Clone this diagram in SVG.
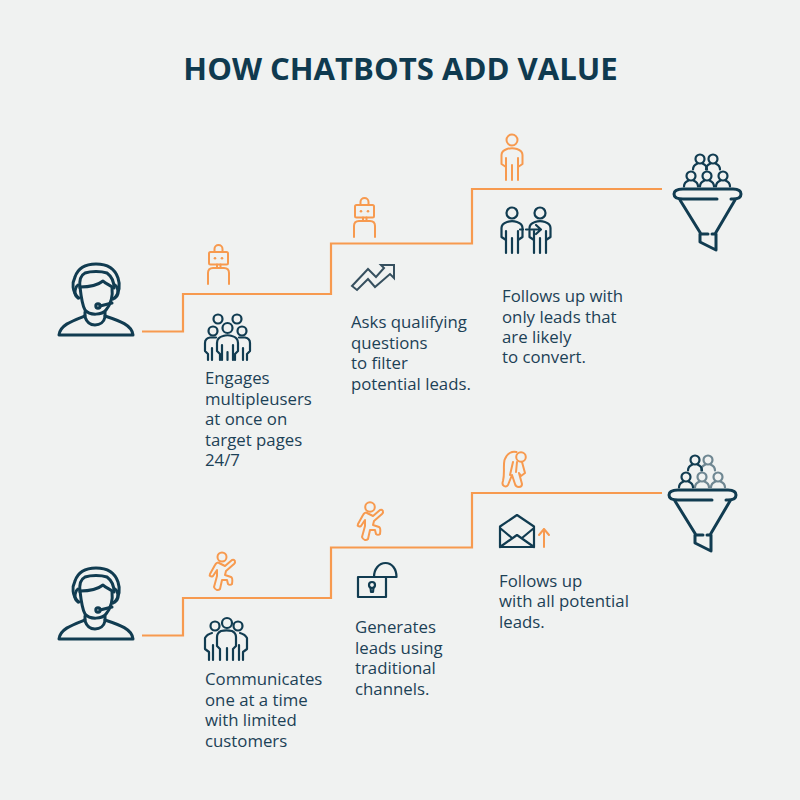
<svg xmlns="http://www.w3.org/2000/svg" xmlns:xlink="http://www.w3.org/1999/xlink" width="800" height="800" viewBox="0 0 800 800">
<style>
.bg{fill:#f0f2f1}
.title{font:700 31.100px "Open Sans",sans-serif;fill:#0f3a4f;text-anchor:middle}
.t{font:400 16.800px "Open Sans",sans-serif;fill:#1c4156}
.c{fill:none;stroke:#f79a4f;stroke-width:2.200}
.d{fill:none;stroke:#113c51;stroke-width:2.200;stroke-linecap:round;stroke-linejoin:round}
.d3{fill:none;stroke:#113c51;stroke-width:3;stroke-linecap:round;stroke-linejoin:round}
.o{fill:none;stroke:#f79a4f;stroke-width:2;stroke-linecap:round;stroke-linejoin:round}
.g{fill:none;stroke:#6f8792;stroke-width:2.200;stroke-linecap:round;stroke-linejoin:round}
.f{fill:#f0f2f1}
</style>
<defs>
<g id="agent" class="d3">
<path d="M78 298C72 291 72 283 75 277C78 268 86 264 96 264C107 264 115 269 118 278C120 284 120 291 115 298"/>
<path d="M80 288C79 280 81 275 85 273C91 271 101 271 107 273C111 276 114 281 114 288"/>
<path d="M80 287C88 287 98 285 103 281C106 284 110 285 112 287C113 296 111 304 106 310C102 315 90 316 85 310C82 305 81 296 80 287Z"/>
<path d="M78 285C75 287 74 293 76 296L79 298"/>
<path d="M115 285C118 287 119 293 117 296L113 299"/>
<circle cx="98" cy="306" r="2.200"/><path d="M100 306L112 303"/>
<path d="M85 312V317C87 323 91 325 95 325C100 325 104 322 105 317V312"/>
<path d="M85 316C72 321 60 325 59 335H133C132 325 120 321 105 316"/>
</g>
<g id="robot" class="o">
<rect x="209" y="252" width="19" height="12.500" rx="1.500"/>
<path d="M214.500 252V249A4 4 0 0 1 222.500 249V252"/>
<path d="M217 264.500V268M220.500 264.500V268"/>
<path d="M208 284V273C208 270 210 268 213 268H224C227 268 229 270 229 273V284"/>
<circle cx="215" cy="258.300" r="1.300" fill="#f79a4f" stroke="none"/><circle cx="222" cy="258.300" r="1.300" fill="#f79a4f" stroke="none"/>
</g>
<g id="person">
<circle cx="0" cy="0" r="5.500"/>
<path d="M-6 27L-10.500 24V15C-10.500 11-8 10-5 9C-2 8 2 8 5 9C8 10 10.500 11 10.500 15V24L6 27M-6 18V40M0 25V40M6 18V40"/>
</g>
<path id="run" class="o" d="M367 513L373 516L380 510C383 509 384 512 382 514L374 521L373 525L379 527C381 528 380 534 380 534C379 535 377 535 376 534L375 530L370 530L368 539C366 541 363 540 362 537L365 526V520L361 526C359 527 357 526 358 524L363 515C364 513 366 512 367 513Z"/>
<g id="bust"><circle cx="0" cy="0" r="4.500"/><path d="M-7 10.500C-7 8-6 6-2.500 4.500M7 10.500C7 8 6 6 2.500 4.500"/></g>
<g id="funnel">
<path class="d3" d="M717 199H683C677 199 674 197 674 194C674 191 677 189 683 189H733C738 189 741 191 741 194C741 197 738 199 733 199H731"/>
<path class="d3" d="M680 200L701 234M735 200L715 234M701 234H708M712 234H716V250L700 242V234"/>
</g>
</defs>
<rect class="bg" width="800" height="800"/>
<text class="title" x="400.500" y="80">HOW CHATBOTS ADD VALUE</text>
<g id="connectors">
<path class="c" d="M142 331.500H183V294H331V243.500H472V189H662"/>
<path class="c" d="M142 635.500H183V598H331V547.500H472V493H662"/>
</g>
<g id="agent-top"><use href="#agent"/></g>
<g id="agent-bottom"><use href="#agent" y="304"/></g>
<g id="step-1a">
<use href="#robot"/>
<g class="d">
<circle cx="218" cy="319" r="4.500"/><circle cx="237" cy="319" r="4.500"/><circle cx="213" cy="331" r="4.500"/><circle cx="242" cy="331" r="4.500"/><circle cx="227.500" cy="328" r="5"/>
<path d="M208 360V354L205 351V343C205 340 207 338 210 337.500H216M212 360V348M247 360V354L250 351V343C250 340 248 338 245 337.500H239M243 360V348"/>
<path class="f" stroke="#113c51" d="M220 360V354L217 351V343C217 339 219 337 223 336C226 335 229 335 232 336C236 337 238 339 238 343V351L235 354V360"/>
<path d="M222 345V360M233 345V360M227.500 352V360"/>
</g>
<text class="t"><tspan x="205" y="384">Engages</tspan><tspan x="205" y="405">multipleusers</tspan><tspan x="205" y="425">at once on</tspan><tspan x="205" y="446">target pages</tspan><tspan x="205" y="466">24/7</tspan></text>
</g>
<g id="step-1b">
<use href="#robot" x="146" y="-47"/>
<path fill="none" stroke="#36505f" stroke-width="2" stroke-linejoin="miter" d="M352 286L368 269L376 277L384 268L381 265H394V278L390 274L375 287L368 279L357 290Z"/>
<text class="t"><tspan x="351" y="328">Asks qualifying</tspan><tspan x="351" y="349">questions</tspan><tspan x="351" y="369">to filter</tspan><tspan x="351" y="390">potential leads.</tspan></text>
</g>
<g id="step-1c">
<use href="#person" class="o" x="512" y="140"/>
<g class="d"><use href="#person" x="512" y="213"/><use href="#person" x="540" y="213"/>
<path d="M520 229.500H523M526 229.500H528M531 229.500H540M536 225L541 229.500L536 234"/></g>
<text class="t"><tspan x="502" y="302">Follows up with</tspan><tspan x="502" y="323">only leads that</tspan><tspan x="502" y="343">are likely</tspan><tspan x="502" y="363">to convert.</tspan></text>
</g>
<g id="funnel-top">
<use href="#funnel"/>
<g class="d"><use href="#bust" x="700" y="159"/><use href="#bust" x="713" y="159"/><use href="#bust" x="691" y="176"/><use href="#bust" x="707" y="176"/><use href="#bust" x="723" y="176"/></g>
</g>
<g id="step-2a">
<use href="#run" x="-148" y="50"/><circle class="o" cx="222" cy="557" r="4.500"/>
<g class="d"><circle cx="215" cy="626" r="4.500"/><circle cx="227" cy="623" r="5"/><circle cx="238" cy="626" r="4.500"/>
<path d="M209 660V652L205 649V638C206 636 208 634 212 633M213 660V645M243 660V652L247 649V638C246 636 244 634 240 633M239 660V645"/>
<path class="f" stroke="#113c51" d="M220 660V649L217 646V637C217 634 219 632 221 631C225 630 228 630 232 631C234 632 236 634 236 637V646L233 649V660"/>
<path d="M227 648V660"/></g>
<text class="t"><tspan x="205" y="685">Communicates</tspan><tspan x="205" y="706">one at a time</tspan><tspan x="205" y="726">with limited</tspan><tspan x="205" y="747">customers</tspan></text>
</g>
<g id="step-2b">
<use href="#run"/><circle class="o" cx="370" cy="507" r="4.800"/>
<g class="d"><rect x="358" y="577" width="28" height="20" stroke-linecap="butt"/><path d="M374 577C374 569 379 563 385.500 563C392 563 396.500 569 396.500 577H386"/>
<circle cx="372" cy="585" r="3"/><path d="M370.500 587.500L371 592H373L373.500 587.500"/></g>
<text class="t"><tspan x="355" y="633">Generates</tspan><tspan x="355" y="654">leads using</tspan><tspan x="355" y="674">traditional</tspan><tspan x="355" y="695">channels.</tspan></text>
</g>
<g id="step-2c">
<g class="o"><circle cx="521" cy="457" r="4.800"/><path d="M516.500 452C512 451 507 453 504.500 460C503 466 505 473 503 481C501 486 506 488 508 485L512 475L515 484C516 488 522 488 522 484L519 473L521 476L525 473L522 462M513 462L510 475M517 462L516 472"/></g>
<path class="d" d="M500 526.500L517 515L534 526.500V547H500ZM500 528L512 538M534 528L522 538M500 547L517 535L534 547"/>
<path class="o" d="M544 547V529M539 535L544 529L549 535"/>
<text class="t"><tspan x="499" y="587">Follows up</tspan><tspan x="499" y="607">with all potential</tspan><tspan x="499" y="628">leads.</tspan></text>
</g>
<g id="funnel-bottom">
<use href="#funnel" x="-5" y="301"/>
<g class="g"><use href="#bust" x="708" y="460"/><use href="#bust" x="702" y="477"/><use href="#bust" x="718" y="477"/></g>
<g class="d"><use href="#bust" x="695" y="460"/><use href="#bust" x="686" y="477"/></g>
</g>
</svg>
